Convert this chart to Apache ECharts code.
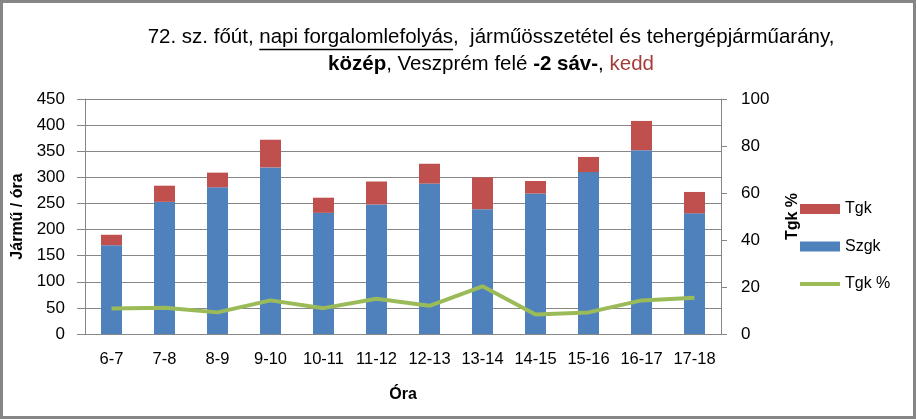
<!DOCTYPE html>
<html><head><meta charset="utf-8">
<script src="https://cdn.jsdelivr.net/npm/echarts@6/dist/echarts.min.js"></script>
<style>html,body{margin:0;padding:0;background:#fff}#c{width:916px;height:419px}</style>
</head><body><div id="c"></div>
<script>
const categories = ['6-7','7-8','8-9','9-10','10-11','11-12','12-13','13-14','14-15','15-16','16-17','17-18'];
const szgk = [170, 253, 281, 319, 232, 248, 288, 239, 269, 310, 352, 231];
const tgk = [20, 31, 28, 53, 29, 44, 38, 61, 24, 29, 56, 41];
const tgkPct = [10.9, 11.2, 9.2, 14.3, 11.0, 15.0, 12.0, 20.3, 8.3, 9.2, 14.3, 15.4];
const leftTicks = [0, 450, 50];
const rightTicks = [0, 100, 20];

const FONT = '"Liberation Sans", Arial, sans-serif';
const TSIZE = 20.5;
const TCX = 491;
const seg1 = '72. sz. főút, ';
const seg2 = 'napi forgalomlefolyás';
const seg3 = ',  járműösszetétel és tehergépjárműarány,';

// measure title segments to place the underline
const ctx = document.createElement('canvas').getContext('2d');
ctx.font = 'normal ' + TSIZE + 'px ' + FONT;
const w1 = ctx.measureText(seg1).width, w2 = ctx.measureText(seg2).width, w3 = ctx.measureText(seg3).width;
const startX = TCX - (w1 + w2 + w3) / 2;

const chart = echarts.init(document.getElementById('c'));
chart.setOption({
  animation: false,
  textStyle: { fontFamily: FONT },
  title: {
    left: TCX, top: 24, padding: 0, textAlign: 'center',
    text: '{n|' + seg1 + '}{n|' + seg2 + '}{n|' + seg3 + '}\n{b|közép}{n|, Veszprém felé }{b|-2 sáv-}{n|, }{r|kedd}',
    textStyle: {
      fontWeight: 'normal',
      rich: {
        n: { fontSize: TSIZE, color: '#000', fontWeight: 'normal', fontFamily: FONT, lineHeight: 27 },
        b: { fontSize: TSIZE, color: '#000', fontWeight: 'bold', fontFamily: FONT, lineHeight: 27 },
        r: { fontSize: TSIZE, color: '#A43D3A', fontWeight: 'normal', fontFamily: FONT, lineHeight: 27 }
      }
    }
  },
  graphic: [
    { type: 'rect', shape: { x: 1.5, y: 1.5, width: 913, height: 416 }, style: { fill: 'none', stroke: '#868686', lineWidth: 3 }, z: 100 },
    { type: 'line', shape: { x1: startX + w1, y1: 49.5, x2: startX + w1 + w2, y2: 49.5 }, style: { stroke: '#000', lineWidth: 1.5 } }
  ],
  legend: {
    orient: 'vertical', left: 795, top: 196, itemGap: 21.5, itemWidth: 40, itemHeight: 10,
    textStyle: { fontSize: 16, color: '#000', fontFamily: FONT },
    data: [
      { name: 'Tgk', icon: 'rect' },
      { name: 'Szgk', icon: 'rect' },
      { name: 'Tgk %', icon: 'path://M0 0H40V4H0Z' }
    ]
  },
  grid: { left: 85, right: 195, top: 99, bottom: 85 },
  xAxis: {
    type: 'category', data: categories,
    name: 'Óra', nameLocation: 'middle', nameGap: 53,
    nameTextStyle: { fontSize: 16, fontWeight: 'bold', color: '#000', fontFamily: FONT },
    axisLine: { lineStyle: { color: '#868686' } },
    axisTick: { alignWithLabel: false, length: 6, lineStyle: { color: '#868686' } },
    axisLabel: { interval: 0, fontSize: 16.5, color: '#000', margin: 17, fontFamily: FONT }
  },
  yAxis: [
    {
      type: 'value', min: leftTicks[0], max: leftTicks[1], interval: leftTicks[2],
      name: 'Jármű / óra', nameLocation: 'middle', nameGap: 58, nameRotate: 90,
      nameTextStyle: { fontSize: 16, fontWeight: 'bold', color: '#000', fontFamily: FONT },
      axisLine: { show: true, lineStyle: { color: '#868686' } },
      axisTick: { show: true, length: 8, lineStyle: { color: '#868686' } },
      axisLabel: { fontSize: 17, color: '#000', margin: 20, fontFamily: FONT },
      splitLine: { lineStyle: { color: '#868686' } }
    },
    {
      type: 'value', min: rightTicks[0], max: rightTicks[1], interval: rightTicks[2], position: 'right',
      name: 'Tgk %', nameLocation: 'middle', nameGap: 64, nameRotate: 90,
      nameTextStyle: { fontSize: 16, fontWeight: 'bold', color: '#000', fontFamily: FONT },
      axisLine: { show: true, lineStyle: { color: '#868686' } },
      axisTick: { show: true, length: 6, lineStyle: { color: '#868686' } },
      axisLabel: { fontSize: 17, color: '#000', margin: 20, fontFamily: FONT },
      splitLine: { show: false }
    }
  ],
  series: [
    { name: 'Szgk', type: 'bar', stack: 's', data: szgk, barWidth: 21, itemStyle: { color: '#4F81BD' } },
    { name: 'Tgk', type: 'bar', stack: 's', data: tgk, barWidth: 21, itemStyle: { color: '#C0504D' } },
    { name: 'Tgk %', type: 'line', yAxisIndex: 1, data: tgkPct, showSymbol: false, symbol: 'none',
      lineStyle: { color: '#9BBB59', width: 4 }, itemStyle: { color: '#9BBB59' }, z: 5 }
  ]
});
</script></body></html>
